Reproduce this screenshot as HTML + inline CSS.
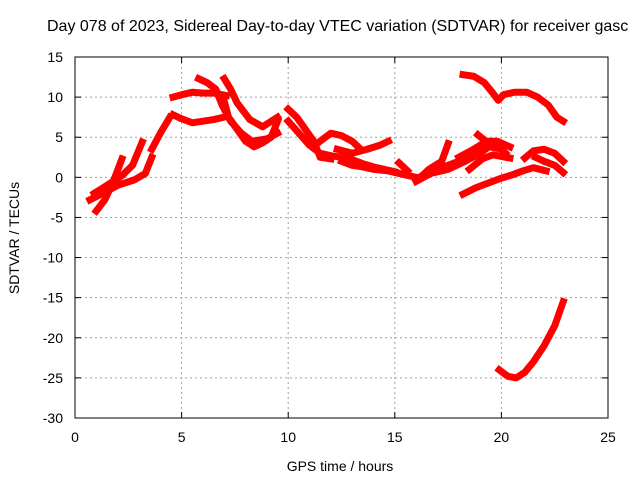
<!DOCTYPE html>
<html><head><meta charset="utf-8"><style>
body{margin:0;background:#fff;}
svg{display:block;font-family:"Liberation Sans",sans-serif;}
</style></head><body>
<svg id="c" width="640" height="480">
<text x="47" y="31" font-size="16">Day 078 of 2023, Sidereal Day-to-day VTEC variation (SDTVAR) for receiver gasc</text>
<g id="grid"></g><g id="ticks"></g><g id="series"></g>
<rect x="75" y="57" width="533" height="361" fill="none" stroke="#000" stroke-width="1"/>
<text x="340" y="471" font-size="14" text-anchor="middle">GPS time / hours</text>
<text transform="translate(19,238) rotate(-90)" font-size="14" text-anchor="middle">SDTVAR / TECUs</text>
</svg>
<script>
const xTicks=[0,5,10,15,20,25];
const yTicks=[-30,-25,-20,-15,-10,-5,0,5,10,15];
const t1=[[0.7,-2.8],[1.3,-2],[2,-1],[2.8,-0.3],[3.3,0.5],[3.6,2.5]];
const t2=[[1.0,-4.2],[1.4,-2.8],[1.8,-0.5],[2.2,2.3]];
const t3=[[0.9,-2],[1.5,-1],[2.2,0.2],[2.7,1.5],[3.15,4.4]];
const t4=[[3.6,3.5],[4.0,5.5],[4.45,7.5]];
const t5=[[4.6,10],[5,10.3],[5.5,10.6],[6,10.5],[6.5,10.5],[7.1,10.2]];
const t6=[[4.6,7.8],[5,7.3],[5.5,6.8],[6,7],[6.5,7.2],[7,7.5]];
const t7=[[6.7,10.5],[7,9.5],[7.2,7.5],[7.6,6],[8,4.5],[8.4,3.8],[8.8,4.3],[9.2,5],[9.5,7]];
const t8=[[5.8,12.3],[6.2,11.8],[6.6,11],[6.9,9],[7.3,7],[7.8,5.5],[8.3,4.5],[9,4.8],[9.5,5.5]];
const t9=[[7.0,12.3],[7.3,11],[7.6,9.3],[8.2,7.2],[8.8,6.3],[9.5,7.5]];
const t10=[[10,8.5],[10.4,7.5],[10.8,6],[11.2,4.5],[11.5,2.5],[12,2.3]];
const t11=[[10,7],[10.5,5.5],[11,4],[11.5,3],[12,2.7],[12.5,2.5],[13,2.2],[13.5,1.7],[14,1.3],[14.5,1],[15,0.7]];
const t12=[[11.5,4.5],[12,5.5],[12.5,5.2],[13,4.5],[13.4,3.5]];
const t13=[[12.3,3.5],[13,3],[13.7,3.5],[14.3,4],[14.7,4.5]];
const t14=[[12.5,2],[13,1.5],[13.5,1.3],[14,1],[14.7,0.8],[15.5,0.3],[16,0]];
const t15=[[15.2,1.8],[15.6,0.8]];
const t16=[[16,-0.2],[16.5,0.5],[17,1],[17.5,1.5],[18,2],[18.5,2.8],[19,3.5],[19.5,3.8],[20,3.5],[20.2,3]];
const t17=[[16.2,0],[16.6,1],[17.2,2],[17.5,4.2]];
const t18=[[16,-0.5],[16.7,0.5],[17.5,1],[18.3,2],[19,3],[19.5,4],[18.9,5.3]];
const t19=[[18,2.5],[18.7,3.5],[19.3,4.5],[19.8,4.5],[20.4,3.8]];
const t20=[[18.5,1],[19.1,2.3],[19.6,2.8],[20,2.6],[20.4,2.4]];
const t21=[[18.2,12.8],[18.7,12.6],[19.2,11.8],[19.6,10.5],[19.85,9.6],[20.1,10.3],[20.6,10.6],[21.2,10.6],[21.7,10],[22.2,9],[22.6,7.5],[22.9,7]];
const t22=[[18.2,-2.1],[18.8,-1.3],[19.5,-0.6],[20,-0.1],[20.5,0.3],[21,0.8],[21.5,1.2],[22.1,0.8]];
const t23=[[21.1,2.4],[21.5,3.3],[22,3.5],[22.5,3],[22.9,2]];
const t24=[[21.6,2.5],[22,2],[22.5,1.5],[22.9,0.6]];
const t25=[[19.9,-24],[20.3,-24.8],[20.7,-25],[21.1,-24.3],[21.5,-23],[22,-21],[22.5,-18.5],[22.9,-15.5]];
const tracks=[t1,t2,t3,t4,t5,t6,t7,t8,t9,t10,t11,t12,t13,t14,t15,t16,t17,t18,t19,t20,t21,t22,t23,t24,t25];
const X0=75,X1=608,Y0=418,Y1=57;
function xs(v){return X0+(v-0)/25*(X1-X0);}
function ys(v){return Y0-(v+30)/45*(Y0-Y1);}
const NS="http://www.w3.org/2000/svg";
const grid=document.getElementById('grid'),ticks=document.getElementById('ticks'),ser=document.getElementById('series');
function mk(tag,attrs,parent){const e=document.createElementNS(NS,tag);for(const k in attrs)e.setAttribute(k,attrs[k]);parent.appendChild(e);return e;}
xTicks.forEach(t=>{const x=xs(t);
 if(t>0&&t<25){const g=mk('line',{x1:x,x2:x,y1:Y1,y2:Y0,stroke:'#a0a0a0','stroke-dasharray':'2,3'},grid);
 
 }
 mk('line',{x1:x,x2:x,y1:Y0,y2:Y0-6,stroke:'#000'},ticks);mk('line',{x1:x,x2:x,y1:Y1,y2:Y1+6,stroke:'#000'},ticks);
 const l=mk('text',{x:x,y:Y0+24,'font-size':14,'text-anchor':'middle'},ticks);l.textContent=t;
 
 });
yTicks.forEach(t=>{const y=ys(t);
 if(t>-30&&t<15){const g=mk('line',{x1:X0,x2:X1,y1:y,y2:y,stroke:'#a0a0a0','stroke-dasharray':'2,3'},grid);
 
 }
 mk('line',{x1:X0,x2:X0+6,y1:y,y2:y,stroke:'#000'},ticks);mk('line',{x1:X1,x2:X1-6,y1:y,y2:y,stroke:'#000'},ticks);
 const l=mk('text',{x:X0-12,y:y+5,'font-size':14,'text-anchor':'end'},ticks);l.textContent=t;
 
 });
tracks.forEach((tr,i)=>{const p=mk('polyline',{points:tr.map(d=>xs(d[0])+','+ys(d[1])).join(' '),fill:'none',stroke:'#ff0000','stroke-width':7,'stroke-linejoin':'round','stroke-linecap':'square'},ser);
 
 });
</script>
</body></html>
